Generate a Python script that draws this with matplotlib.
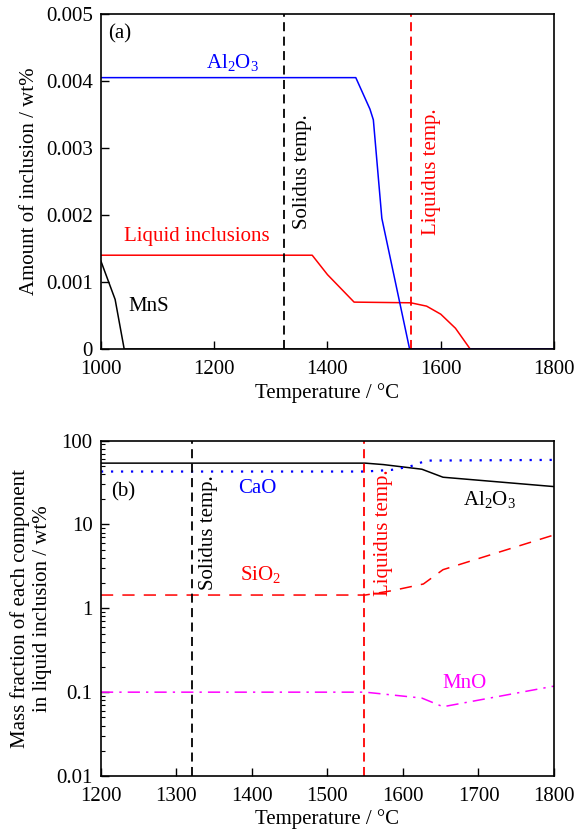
import matplotlib
matplotlib.use("Agg")
import matplotlib.pyplot as plt
from matplotlib.ticker import FixedLocator, FixedFormatter, LogLocator, NullFormatter

plt.rcParams["font.family"] = ["Liberation Serif", "DejaVu Serif"]
plt.rcParams["mathtext.fontset"] = "custom"
plt.rcParams["mathtext.rm"] = "Liberation Serif"
plt.rcParams["font.size"] = 15

# panel (a) data
al2o3_T = [1000, 1450, 1475, 1481, 1496, 1545, 1800]
al2o3_amt = [0.00405, 0.00405, 0.00358, 0.00342, 0.00195, 0.0, 0.0]
liq_T = [1000, 1373, 1400, 1447, 1547, 1575, 1600, 1626, 1652, 1800]
liq_amt = [0.0014, 0.0014, 0.00111, 0.0007, 0.00069, 0.00064, 0.00052, 0.00031, 0.0, 0.0]
mns_T = [1000, 1025, 1041, 1800]
mns_amt = [0.00131, 0.00074, 0.0, 0.0]

# panel (b) data
b_al2o3_T = [1200, 1550, 1574, 1625, 1653, 1800]
b_al2o3 = [53.9, 53.9, 51.8, 45.6, 36.6, 28.3]
cao_T = [1200, 1550, 1585, 1609, 1631, 1800]
cao = [42.8, 42.8, 44.8, 49.0, 57.8, 58.9]
sio2_T = [1200, 1550, 1585, 1627, 1653, 1800]
sio2 = [1.44, 1.44, 1.62, 1.95, 2.89, 7.5]
mno_T = [1200, 1550, 1625, 1653, 1800]
mno = [0.1, 0.1, 0.085, 0.067, 0.118]

solidus_a, liquidus_a = 1323, 1547
solidus_b, liquidus_b = 1321, 1548

fig = plt.figure(figsize=(5.85, 8.32), dpi=100)
ax1 = fig.add_axes([0.1726, 0.5805, 0.7744, 0.4027])
ax2 = fig.add_axes([0.1726, 0.0673, 0.7744, 0.4031])

# ---- (a)
ax1.plot(mns_T, mns_amt, color="black", lw=1.1)
ax1.plot(liq_T, liq_amt, color="red", lw=1.1)
ax1.plot(al2o3_T, al2o3_amt, color="blue", lw=1.1)
ax1.axvline(solidus_a, color="black", ls=(0, (5, 3)), lw=1.3)
ax1.axvline(liquidus_a, color="red", ls=(0, (5, 3)), lw=1.3)
ax1.set_xlim(1000, 1800)
ax1.set_ylim(0, 0.005)
ax1.set_xticks([1000, 1200, 1400, 1600, 1800])
ax1.set_yticks([0, 0.001, 0.002, 0.003, 0.004, 0.005])
ax1.set_yticklabels(["0", "0.001", "0.002", "0.003", "0.004", "0.005"])
ax1.set_xlabel("Temperature / \u00b0C", labelpad=3)
ax1.set_ylabel("Amount of inclusion / wt%", labelpad=5)
ax1.text(1033, 0.0047, "(a)", ha="center", va="center")
ax1.text(1232, 0.00426, r"Al$_2$O$_3$", color="blue", ha="center", va="center")
ax1.text(1169, 0.00168, "Liquid inclusions", color="red", ha="center", va="center")
ax1.text(1085, 0.00063, "MnS", color="black", ha="center", va="center")
ax1.text(1356, 0.00264, "Solidus temp.", rotation=90, ha="center", va="center")
ax1.text(1584, 0.00264, "Liquidus temp.", rotation=90, color="red", ha="center", va="center")

# ---- (b)
ax2.plot(b_al2o3_T, b_al2o3, color="black", lw=1.1)
ax2.plot(cao_T, cao, color="blue", ls=(0, (1, 3.5)), lw=1.6)
ax2.plot(sio2_T, sio2, color="red", ls=(0, (8, 6)), lw=1.1)
ax2.plot(mno_T, mno, color="magenta", ls=(0, (8, 4, 1.5, 4)), lw=1.1)
ax2.axvline(solidus_b, color="black", ls=(0, (5, 3)), lw=1.3)
ax2.axvline(liquidus_b, color="red", ls=(0, (5, 3)), lw=1.3)
ax2.set_yscale("log")
ax2.set_xlim(1200, 1800)
ax2.set_ylim(0.01, 100)
ax2.set_xticks([1200, 1300, 1400, 1500, 1600, 1700, 1800])
ax2.yaxis.set_major_locator(FixedLocator([0.01, 0.1, 1, 10, 100]))
ax2.yaxis.set_major_formatter(FixedFormatter(["0.01", "0.1", "1", "10", "100"]))
ax2.yaxis.set_minor_locator(LogLocator(base=10, subs=range(2, 10)))
ax2.yaxis.set_minor_formatter(NullFormatter())
ax2.set_xlabel("Temperature / \u00b0C", labelpad=2)
ax2.set_ylabel("Mass fraction of each component\nin liquid inclusion / wt%", labelpad=3)
ax2.text(1230, 24.7, "(b)", ha="center", va="center")
ax2.text(1407, 26.6, "CaO", color="blue", ha="center", va="center")
ax2.text(1715, 19.7, r"Al$_2$O$_3$", color="black", ha="center", va="center")
ax2.text(1411, 2.5, r"SiO$_2$", color="red", ha="center", va="center")
ax2.text(1682, 0.127, "MnO", color="magenta", ha="center", va="center")
ax2.text(1342, 7.9, "Solidus temp.", rotation=90, ha="center", va="center")
ax2.text(1574, 7.9, "Liquidus temp.", rotation=90, color="red", ha="center", va="center")

for ax in (ax1, ax2):
    ax.tick_params(which="both", direction="in", top=False, right=False)
    ax.tick_params(which="major", length=6, width=1)
    ax.tick_params(which="minor", length=3, width=0.8)
    ax.tick_params(axis="x", which="major", pad=8)
    ax.tick_params(axis="y", which="major", pad=6)
    for s in ax.spines.values():
        s.set_linewidth(1.2)

fig.savefig("out.png", dpi=100)
